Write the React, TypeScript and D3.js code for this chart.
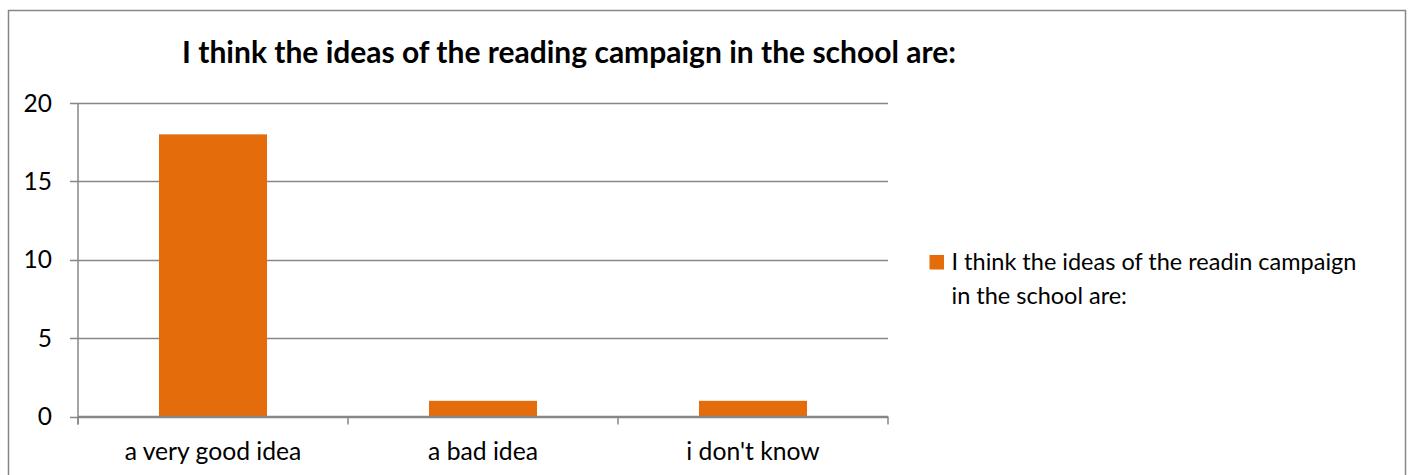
import React from "react";
import * as d3 from "d3";

const categories = ["a very good idea", "a bad idea", "i don't know"];
const values = [18, 1, 1];
const yTicks = [0, 5, 10, 15, 20];
const chartTitle = "I think the ideas of the reading campaign in the school are:";
const legendLines = ["I think the ideas of the readin campaign", "in the school are:"];

const W = 1410;
const H = 475;
const plot = { left: 78, right: 888, top: 103, bottom: 416.5 };
const barColor = "#E46C0A";
const axisColor = "#878787";
const font = "Lato, 'Open Sans', sans-serif";

export default function App() {
  const x = d3
    .scaleBand<string>()
    .domain(categories)
    .range([plot.left, plot.right])
    .paddingInner(0.6)
    .paddingOuter(0.3);
  const y = d3.scaleLinear().domain([0, 20]).range([plot.bottom, plot.top]);
  const step = x.step();
  const boundaries = d3.range(categories.length + 1).map((i) => plot.left + i * step);

  return (
    <svg
      width={W}
      height={H}
      style={{ position: "absolute", left: 0, top: 0, display: "block", background: "#fff" }}
    >
      <rect x={8.5} y={10.5} width={1397} height={500} fill="#fff" stroke={axisColor} strokeWidth={1.5} />
      <text
        x={569}
        y={63}
        textAnchor="middle"
        fontFamily={font}
        fontWeight="bold"
        fontSize={30}
        fill="#000"
      >
        {chartTitle}
      </text>
      {yTicks.map((t) => (
        <g key={t}>
          <line x1={plot.left - 8} x2={plot.right} y1={Math.round(y(t)) + 0.5} y2={Math.round(y(t)) + 0.5} stroke={axisColor} strokeWidth={1.5} />
          <text
            x={52}
            y={y(t)}
            dy="0.35em"
            textAnchor="end"
            fontFamily={font}
            fontSize={24.5}
            fill="#000"
          >
            {t}
          </text>
        </g>
      ))}
      <line x1={plot.left} x2={plot.left} y1={plot.top} y2={plot.bottom + 8} stroke={axisColor} strokeWidth={1.5} />
      {boundaries.map((b, i) => (
        <line key={i} x1={b} x2={b} y1={plot.bottom} y2={plot.bottom + 8} stroke={axisColor} strokeWidth={1.5} />
      ))}
      {categories.map((c, i) => (
        <rect
          key={c}
          x={x(c)}
          y={y(values[i])}
          width={x.bandwidth()}
          height={y(0) - y(values[i])}
          fill={barColor}
        />
      ))}
      <line x1={plot.left} x2={plot.right} y1={plot.bottom} y2={plot.bottom} stroke={axisColor} strokeWidth={1.5} />
      {categories.map((c) => (
        <text
          key={c}
          x={(x(c) as number) + x.bandwidth() / 2}
          y={460}
          textAnchor="middle"
          fontFamily={font}
          fontSize={24.7}
          fill="#000"
        >
          {c}
        </text>
      ))}
      <rect x={929.5} y={255} width={14.5} height={14.5} fill={barColor} />
      {legendLines.map((l, i) => (
        <text key={i} x={951.5} y={269.5 + i * 34} fontFamily={font} fontSize={23.5} fill="#000">
          {l}
        </text>
      ))}
    </svg>
  );
}
